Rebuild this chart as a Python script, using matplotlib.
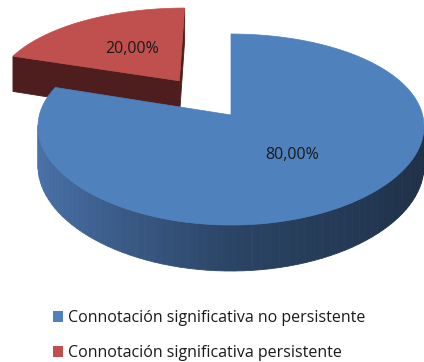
import numpy as np
import matplotlib
matplotlib.use("Agg")
import matplotlib.pyplot as plt
from matplotlib.patches import Polygon, Patch

plt.rcParams['font.family'] = ['Open Sans', 'DejaVu Sans']

labels = ['Connotación significativa no persistente',
          'Connotación significativa persistente']
values = [80.0, 20.0]
top_colors = ['#4f81bd', '#c0504d']
explode = [0.0, 0.48]

# projection of the tilted disc (pixel space)
cx, cy = 231.0, 115.0
A, B = 191.6, 93.3
K = 0.152    # depth scaling, vertical
KX = 0.12    # depth scaling, horizontal
H = 39.0


def proj(x, z, bottom=False):
    w = 1.0 / (1.0 - K * z)
    wx = 1.0 / (1.0 - KX * z)
    sx = cx + A * x * wx
    sy = cy + B * z * w
    if bottom:
        sy = sy + H * w
    return sx, sy


def lerp(c1, c2, t):
    return tuple(a + (b - a) * t for a, b in zip(c1, c2))


def blue_side(theta):
    # lighter on the left, dark navy on the right
    t = (np.sin(theta) + 1) / 2
    light = (0.29, 0.45, 0.67)
    mid = (0.17, 0.27, 0.40)
    dark = (0.12, 0.19, 0.28)
    if t < 0.5:
        return lerp(light, mid, t / 0.5)
    return lerp(mid, dark, (t - 0.5) / 0.5)


def red_side(theta):
    return '#4e1e1e'


def area(pts):
    p = np.array(pts)
    x, y = p[:, 0], p[:, 1]
    return 0.5 * np.sum(x * np.roll(y, -1) - np.roll(x, -1) * y)


def draw_slice(ax, t1, t2, off, top_col, side_fn):
    th = np.linspace(t1, t2, 120)
    ox, oz = off
    rx = ox + np.sin(th)
    rz = oz - np.cos(th)
    faces = []
    # outer wall
    for i in range(len(th) - 1):
        q = [proj(rx[i], rz[i]), proj(rx[i + 1], rz[i + 1]),
             proj(rx[i + 1], rz[i + 1], True), proj(rx[i], rz[i], True)]
        faces.append(((rz[i] + rz[i + 1]) / 2, q, side_fn(th[i])))
    # radial walls
    q1 = [proj(ox, oz), proj(rx[0], rz[0]),
          proj(rx[0], rz[0], True), proj(ox, oz, True)]
    faces.append(((oz + rz[0]) / 2, q1, side_fn(t1 - np.pi / 2)))
    q2 = [proj(rx[-1], rz[-1]), proj(ox, oz),
          proj(ox, oz, True), proj(rx[-1], rz[-1], True)]
    faces.append(((oz + rz[-1]) / 2, q2, side_fn(t2 + np.pi / 2)))
    faces.sort(key=lambda f: f[0])
    for z, q, col in faces:
        if area(q) < -0.01:
            ax.add_patch(Polygon(q, closed=True, facecolor=col,
                                 edgecolor=col, lw=0.6))
    top = [proj(ox, oz)] + [proj(a, b) for a, b in zip(rx, rz)]
    ax.add_patch(Polygon(top, closed=True, facecolor=top_col,
                         edgecolor=top_col, lw=0.5))


fig = plt.figure(figsize=(4.24, 3.62), dpi=100)
ax = fig.add_axes([0, 0, 1, 1])
ax.set_xlim(0, 424)
ax.set_ylim(362, 0)
ax.axis('off')

total = sum(values)
starts = np.cumsum([0] + values[:-1]) / total * 2 * np.pi
spans = np.array(values) / total * 2 * np.pi
side_fns = [blue_side, red_side]

# back slice first
for i in [1, 0]:
    t1 = starts[i]
    t2 = t1 + spans[i]
    mid = (t1 + t2) / 2
    off = (explode[i] * np.sin(mid), -explode[i] * np.cos(mid))
    draw_slice(ax, t1, t2, off, top_colors[i], side_fns[i])
    lx, ly = proj(off[0] + 0.5 * np.sin(mid), off[1] - 0.5 * np.cos(mid))
    txt = f"{values[i]:.2f}".replace('.', ',') + '%'
    ax.text(lx + 2, ly, txt, ha='center', va='center', fontsize=11.5,
            color='#1a1a1a')

handles = [Patch(facecolor=c, edgecolor='none') for c in top_colors]
ax.legend(handles, labels, loc='upper left', bbox_to_anchor=(0.105, 0.165),
          frameon=False, fontsize=11.5, handlelength=0.65, handleheight=0.65,
          handletextpad=0.3, labelspacing=1.2, borderpad=0,
          labelcolor='#1a1a1a')

fig.savefig('out.png', dpi=100)
